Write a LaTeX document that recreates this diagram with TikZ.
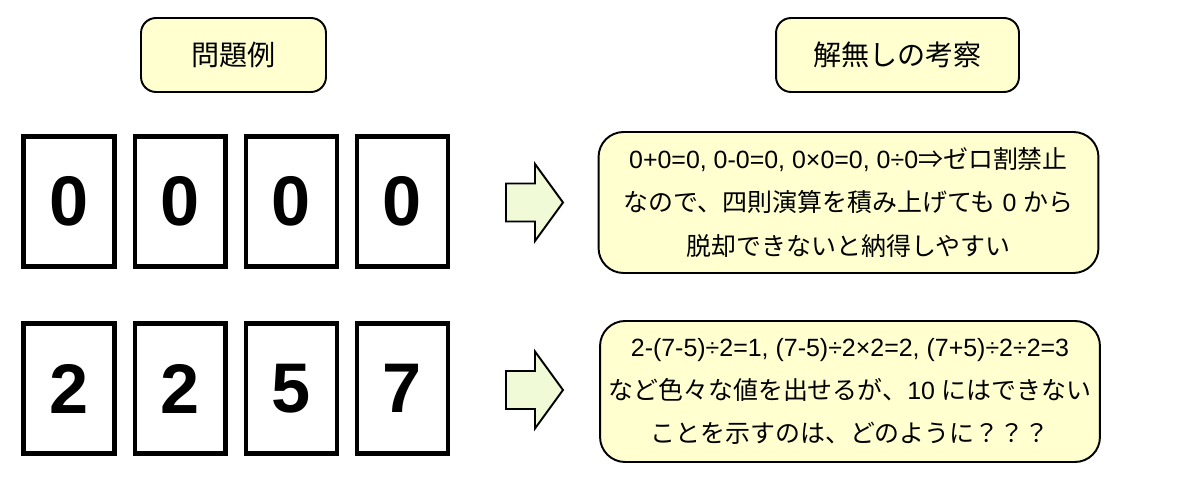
\documentclass[tikz,border=0pt]{standalone}
\usepackage{fontspec}
\setmainfont{Liberation Sans}
\newfontfamily\jp{Noto Sans CJK JP}
\usetikzlibrary{positioning}
\definecolor{NoteYellow}{RGB}{255,255,208}
\definecolor{ArrowTint}{RGB}{240,250,215}
\tikzset{
  headbox/.style={
    draw=black,
    fill=NoteYellow,
    rounded corners=3mm,
    line width=1.1pt,
    minimum height=1.48cm,
    font=\fontsize{16}{18}\selectfont\jp
  },
  card/.style={
    draw=black,
    fill=white,
    line width=2.3pt,
    minimum width=1.82cm,
    minimum height=2.6cm,
    inner sep=0pt,
    font=\fontsize{40}{40}\selectfont\bfseries
  },
  notebox/.style={
    draw=black,
    fill=NoteYellow,
    rounded corners=5mm,
    line width=1.1pt,
    minimum width=10.0cm,
    minimum height=2.82cm,
    align=center,
    font=\fontsize{14.2}{24.5}\selectfont
  },
  blockarrow/.style={draw=black,fill=ArrowTint,line width=1.1pt,line join=miter}
}

\begin{document}
\begin{tikzpicture}[x=0.02cm, y=0.02cm, node distance=3.2mm]
  \useasboundingbox (0,0) rectangle (1200,480);
  % headings
  \node[headbox, minimum width=3.7cm] (hprob) at (233.5,425) {問題例};
  \node[headbox, minimum width=4.86cm] (hcons) at (897.5,425) {解無しの考察};

  % first example: 0 0 0 0
  \node[card] (z1) at (69,278.5) {0};
  \node[card, right=of z1] (z2) {0};
  \node[card, right=of z2] (z3) {0};
  \node[card, right=of z3] (z4) {0};

  % second example: 2 2 5 7
  \node[card] (n1) at (69,91.5) {2};
  \node[card, right=of n1] (n2) {2};
  \node[card, right=of n2] (n3) {5};
  \node[card, right=of n3] (n4) {7};

  % block arrows
  \coordinate (arr1) at (534.5,277.5);
  \coordinate (arr2) at (534.5,90);
  \foreach \a in {arr1,arr2}
    \draw[blockarrow, shift={(\a)}] (-28.5,-19) -- (0.5,-19) -- (0.5,-38.5)
      -- (28.5,0) -- (0.5,38.5) -- (0.5,19) -- (-28.5,19) -- cycle;

  % remarks
  \node[notebox] (note1) at (848.5,277.5) {%
    0+0=0, 0-0=0, 0×0=0, 0÷0{\jp ⇒ゼロ割禁止}\\
    {\jp なので、四則演算を積み上げても} 0 {\jp から}\\
    {\jp 脱却できないと納得しやすい}};
  \node[notebox] (note2) at (850,88.5) {%
    2-(7-5)÷2=1, (7-5)÷2×2=2, (7+5)÷2÷2=3\\
    {\jp など色々な値を出せるが、}10 {\jp にはできない}\\
    {\jp ことを示すのは、どのように？？？}};
\end{tikzpicture}
\end{document}
